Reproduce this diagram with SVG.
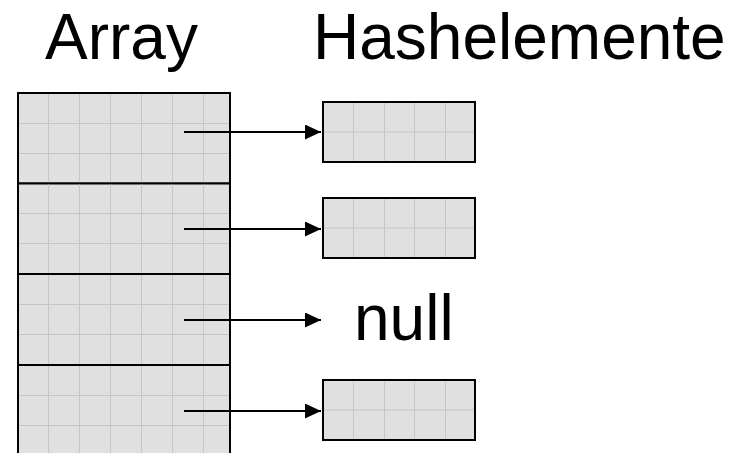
<svg xmlns="http://www.w3.org/2000/svg" width="732" height="453" viewBox="0 0 732 453">
<style>
.cell{fill:#e0e0e0;stroke:#000;stroke-width:2}
.grid{fill:none;stroke:#c6c6c6;stroke-width:1}
.lbl{font-family:"Liberation Sans",Arial,sans-serif;font-size:64px;fill:#000}
.conn{stroke:#000;stroke-width:2;fill:none}
</style>
<defs>
<marker id="ah" markerUnits="userSpaceOnUse" markerWidth="18" markerHeight="16" refX="16" refY="7.5" orient="auto">
<path d="M0,0 L16,7.5 L0,15 Z" fill="#000"/>
</marker>
</defs>
<rect width="732" height="453" fill="#fff"/>
<text class="lbl" x="45" y="59">Array</text>
<text class="lbl" x="313" y="59">Hashelemente</text>
<g id="array">
<g id="slot0">
<rect class="cell" x="18" y="93" width="212" height="90.5"/>
<path class="grid" d="M48.5,94V182.5M79.5,94V182.5M110.5,94V182.5M141.5,94V182.5M172.5,94V182.5M203.5,94V182.5M19,123.5H229M19,153.5H229"/>
</g>
<g id="slot1">
<rect class="cell" x="18" y="183.5" width="212" height="90.5"/>
<path class="grid" d="M48.5,184.5V273M79.5,184.5V273M110.5,184.5V273M141.5,184.5V273M172.5,184.5V273M203.5,184.5V273M19,213.5H229M19,243.5H229"/>
</g>
<g id="slot2">
<rect class="cell" x="18" y="274" width="212" height="91"/>
<path class="grid" d="M48.5,275V364M79.5,275V364M110.5,275V364M141.5,275V364M172.5,275V364M203.5,275V364M19,304.5H229M19,334.5H229"/>
</g>
<g id="slot3">
<rect class="cell" x="18" y="365" width="212" height="91"/>
<path class="grid" d="M48.5,366V455M79.5,366V455M110.5,366V455M141.5,366V455M172.5,366V455M203.5,366V455M19,395.5H229M19,425.5H229"/>
</g>
</g>
<g id="elem0">
<rect class="cell" x="323" y="102" width="152" height="60"/>
<path class="grid" d="M353.5,103V161M384.5,103V161M414.5,103V161M445.5,103V161M324,132H474"/>
</g>
<g id="elem1">
<rect class="cell" x="323" y="198" width="152" height="60"/>
<path class="grid" d="M353.5,199V257M384.5,199V257M414.5,199V257M445.5,199V257M324,228H474"/>
</g>
<g id="null2">
<text class="lbl" x="354" y="340">null</text>
</g>
<g id="elem3">
<rect class="cell" x="323" y="380" width="152" height="60"/>
<path class="grid" d="M353.5,381V439M384.5,381V439M414.5,381V439M445.5,381V439M324,410H474"/>
</g>
<g id="connectors">
<line class="conn" x1="184" y1="132" x2="321" y2="132" marker-end="url(#ah)"/>
<line class="conn" x1="184" y1="229" x2="321" y2="229" marker-end="url(#ah)"/>
<line class="conn" x1="184" y1="320" x2="321" y2="320" marker-end="url(#ah)"/>
<line class="conn" x1="184" y1="411" x2="321" y2="411" marker-end="url(#ah)"/>
</g>
</svg>
